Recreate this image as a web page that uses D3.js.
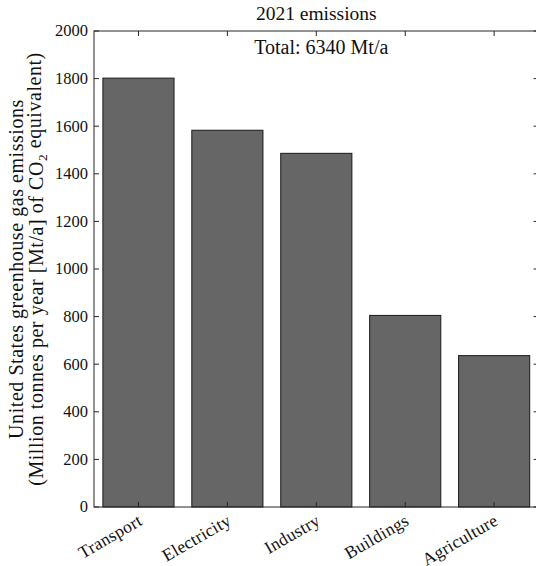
<!DOCTYPE html>
<html>
<head>
<meta charset="utf-8">
<script src="https://cdn.jsdelivr.net/npm/d3@7"></script>
<style>
  body { margin: 0; background: #fff; }
  svg text { font-family: "Liberation Serif", Tinos, "Times New Roman", "DejaVu Serif", serif; fill: #111; }
</style>
</head>
<body>
<div id="viz"></div>
<script>
const width = 536;
const height = 566;
const margin = {top: 31, right: -2.6, bottom: 59, left: 94};

// data
const sectors = ['Transport', 'Electricity', 'Industry', 'Buildings', 'Agriculture'];
const emissions = [1802, 1583, 1486, 805, 636];
const yTicks = [0, 200, 400, 600, 800, 1000, 1200, 1400, 1600, 1800, 2000];
const titleText = '2021 emissions';
const totalText = 'Total: 6340 Mt/a';

const axisColor = '#262626';
const barColor = '#666666';
const tickLen = 5;

const svg = d3.select('#viz')
  .append('svg')
  .attr('width', width)
  .attr('height', height)
  .attr('viewBox', `0 0 ${width} ${height}`);

const x = d3.scaleBand()
  .domain(sectors)
  .range([margin.left, width - margin.right])
  .paddingInner(0.2)
  .paddingOuter(0.1);

const y = d3.scaleLinear()
  .domain([0, 2000])
  .range([height - margin.bottom, margin.top]);

const x0 = x.range()[0], x1 = x.range()[1];
const y0 = y.range()[0], y1 = y.range()[1];

// bars
svg.append('g')
  .selectAll('rect')
  .data(sectors)
  .join('rect')
  .attr('x', d => x(d))
  .attr('y', (d, i) => y(emissions[i]))
  .attr('width', x.bandwidth())
  .attr('height', (d, i) => y(0) - y(emissions[i]))
  .attr('fill', barColor)
  .attr('stroke', '#1a1a1a')
  .attr('stroke-width', 1);

// box lines
const box = svg.append('g').attr('stroke', axisColor).attr('stroke-width', 1).attr('fill', 'none');
box.append('rect')
  .attr('x', x0).attr('y', y1)
  .attr('width', x1 - x0).attr('height', y0 - y1);

// y ticks, both sides, pointing inward
const yt = svg.append('g').attr('stroke', axisColor);
yTicks.forEach(v => {
  yt.append('line').attr('x1', x0).attr('x2', x0 + tickLen).attr('y1', y(v)).attr('y2', y(v));
  yt.append('line').attr('x1', x1).attr('x2', x1 - tickLen).attr('y1', y(v)).attr('y2', y(v));
});
svg.append('g')
  .selectAll('text')
  .data(yTicks)
  .join('text')
  .attr('x', x0 - 6)
  .attr('y', d => y(d))
  .attr('dy', '0.33em')
  .attr('text-anchor', 'end')
  .style('font-size', '16.5px')
  .text(d => d);

// x ticks top and bottom
const xt = svg.append('g').attr('stroke', axisColor);
sectors.forEach(s => {
  const cx = x(s) + x.bandwidth() / 2;
  xt.append('line').attr('x1', cx).attr('x2', cx).attr('y1', y0).attr('y2', y0 - tickLen);
  xt.append('line').attr('x1', cx).attr('x2', cx).attr('y1', y1).attr('y2', y1 + tickLen);
});
svg.append('g')
  .selectAll('text')
  .data(sectors)
  .join('text')
  .attr('transform', d => `translate(${x(d) + x.bandwidth() / 2 + 5},${y0 + 17}) rotate(-30)`)
  .attr('text-anchor', 'end')
  .style('font-size', '17.5px')
  .style('letter-spacing', '0.3px')
  .text(d => d);

// title and total
svg.append('text')
  .attr('x', (x0 + x1) / 2)
  .attr('y', 19.5)
  .attr('text-anchor', 'middle')
  .style('font-size', '19.5px')
  .text(titleText);

svg.append('text')
  .attr('x', x('Industry') + x.bandwidth() / 2 + 5)
  .attr('y', 54)
  .attr('text-anchor', 'middle')
  .style('font-size', '20px')
  .text(totalText);

// y label, two lines
const ylab = svg.append('text')
  .attr('transform', `translate(0,${(y0 + y1) / 2}) rotate(-90)`)
  .attr('text-anchor', 'middle')
  .style('font-size', '20px')
  .style('letter-spacing', '0.55px');
ylab.append('tspan').attr('x', 0).attr('y', 23).text('United States greenhouse gas emissions');
const l2 = ylab.append('tspan').attr('x', 0).attr('y', 43);
l2.append('tspan').text('(Million tonnes per year [Mt/a] of CO');
l2.append('tspan').attr('dy', '0.3em').style('font-size', '13.5px').text('2');
l2.append('tspan').attr('dy', '-0.3em').text(' equivalent)');
</script>
</body>
</html>
